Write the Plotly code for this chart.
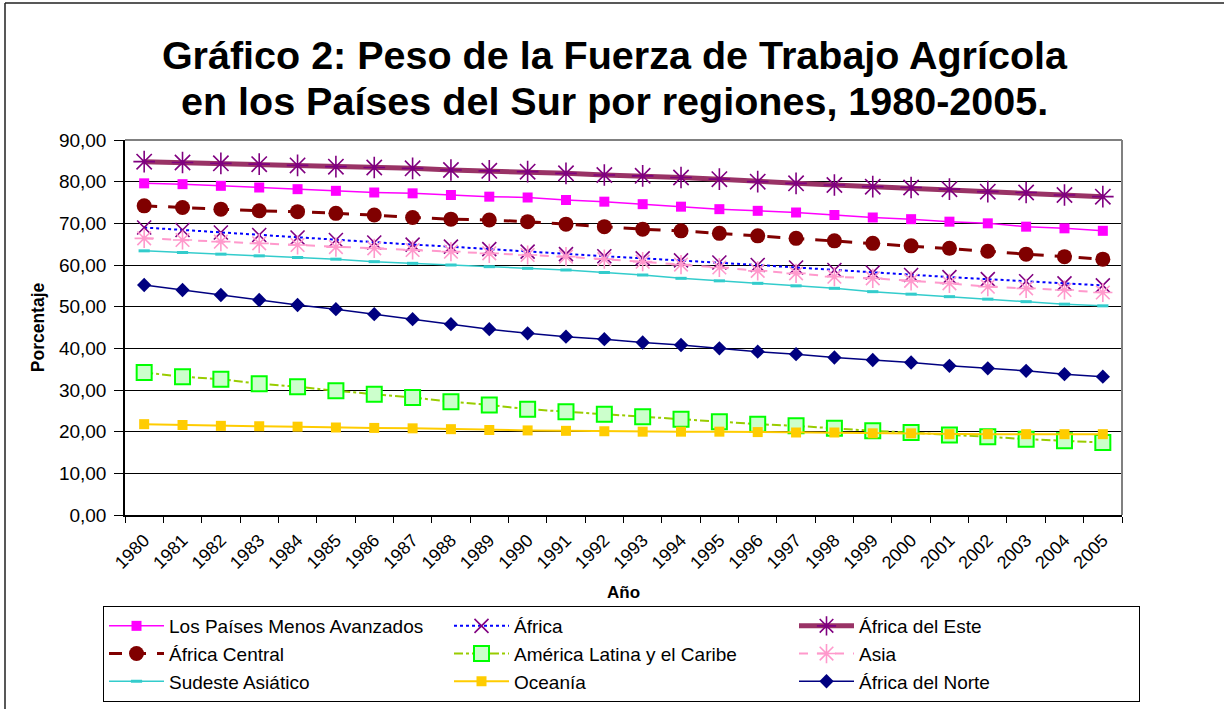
import plotly.graph_objects as go

years = ["1980", "1981", "1982", "1983", "1984", "1985", "1986", "1987", "1988",
         "1989", "1990", "1991", "1992", "1993", "1994", "1995", "1996", "1997",
         "1998", "1999", "2000", "2001", "2002", "2003", "2004", "2005"]

pma = [79.6, 79.4, 79.0, 78.6, 78.2, 77.8, 77.4, 77.2, 76.8, 76.4, 76.2, 75.6, 75.2,
       74.6, 74.0, 73.4, 73.0, 72.6, 72.0, 71.4, 71.0, 70.4, 70.0, 69.2, 68.8, 68.2]
africa = [69.0, 68.4, 67.8, 67.2, 66.6, 66.0, 65.4, 64.9, 64.4, 63.8, 63.2, 62.6, 62.1,
          61.6, 61.1, 60.6, 60.0, 59.4, 58.8, 58.2, 57.6, 57.1, 56.6, 56.1, 55.6, 55.1]
africa_este = [84.8, 84.6, 84.4, 84.2, 83.9, 83.6, 83.4, 83.2, 82.8, 82.6, 82.4, 82.0, 81.6,
               81.4, 81.0, 80.6, 80.0, 79.6, 79.2, 78.8, 78.6, 78.2, 77.6, 77.4, 76.8, 76.4]
africa_central = [74.2, 73.8, 73.4, 73.0, 72.8, 72.4, 72.0, 71.4, 71.0, 70.8, 70.4, 69.8, 69.2,
                  68.6, 68.2, 67.6, 67.0, 66.4, 65.8, 65.2, 64.6, 64.0, 63.3, 62.6, 62.0, 61.4]
america_latina = [34.2, 33.2, 32.6, 31.5, 30.8, 29.8, 29.0, 28.2, 27.2, 26.4, 25.4, 24.8, 24.2,
                  23.6, 23.0, 22.4, 21.8, 21.4, 20.8, 20.2, 19.8, 19.2, 18.8, 18.2, 17.8, 17.4]
asia = [66.4, 66.0, 65.6, 65.2, 64.8, 64.3, 64.0, 63.6, 63.2, 62.8, 62.4, 62.0, 61.4,
        60.8, 60.1, 59.4, 58.6, 58.0, 57.2, 56.8, 56.2, 55.6, 54.8, 54.4, 54.0, 53.4]
sudeste_asiatico = [63.4, 63.0, 62.6, 62.2, 61.8, 61.4, 60.8, 60.4, 60.0, 59.6, 59.2, 58.8, 58.2,
                    57.6, 56.8, 56.2, 55.6, 55.0, 54.4, 53.6, 53.0, 52.4, 51.8, 51.2, 50.6, 50.2]
oceania = [21.8, 21.6, 21.4, 21.3, 21.2, 21.0, 20.9, 20.8, 20.6, 20.4, 20.3, 20.2, 20.1,
           20.0, 20.0, 20.0, 19.9, 19.8, 19.8, 19.6, 19.6, 19.4, 19.4, 19.4, 19.4, 19.4]
africa_norte = [55.2, 54.0, 52.8, 51.6, 50.4, 49.4, 48.2, 47.0, 45.8, 44.6, 43.6, 42.8, 42.2,
                41.4, 40.8, 40.0, 39.2, 38.6, 37.8, 37.2, 36.6, 35.8, 35.2, 34.6, 33.8, 33.2]

title_line1 = "Gráfico 2: Peso de la Fuerza de Trabajo Agrícola"
title_line2 = "en los Países del Sur por regiones, 1980-2005."

W, H = 1224, 709
ML, MR, MT, MB = 125, 102, 140, 194
PW, PH = W - ML - MR, H - MT - MB


def px2x(px):
    return (px - ML) / PW


def py2y(py):
    return (H - MB - py) / PH


FONT = "Liberation Sans, Arial, sans-serif"

fig = go.Figure()

series = [
    ("Los Países Menos Avanzados", pma,
     dict(color="#FF00FF", width=1.5),
     dict(symbol="square", size=10, color="#FF00FF")),
    ("África", africa,
     dict(color="#0000FF", width=2, dash="dot"),
     dict(symbol="x-thin-open", size=14, color="#800080", line=dict(color="#800080", width=1.6))),
    ("África del Este", africa_este,
     dict(color="#993366", width=5),
     dict(symbol="asterisk-open", size=18, color="#800080", line=dict(color="#800080", width=1.6))),
    ("África Central", africa_central,
     dict(color="#800000", width=3, dash="13px,11px"),
     dict(symbol="circle", size=15, color="#800000")),
    ("América Latina y el Caribe", america_latina,
     dict(color="#99CC00", width=2, dash="dashdot"),
     dict(symbol="square", size=15, color="#CCFFCC", line=dict(color="#00FF00", width=2))),
    ("Asia", asia,
     dict(color="#FF99CC", width=2, dash="dash"),
     dict(symbol="asterisk-open", size=16, color="#FF99CC", line=dict(color="#FF99CC", width=1.6))),
    ("Sudeste Asiático", sudeste_asiatico,
     dict(color="#33CCCC", width=1.5),
     dict(symbol="line-ew-open", size=8, color="#33CCCC", line=dict(color="#33CCCC", width=3))),
    ("Oceanía", oceania,
     dict(color="#FFCC00", width=2),
     dict(symbol="square", size=10, color="#FFCC00")),
    ("África del Norte", africa_norte,
     dict(color="#000080", width=1.5),
     dict(symbol="diamond", size=11, color="#000080")),
]

for name, vals, line, marker in series:
    fig.add_trace(go.Scatter(x=years, y=vals, name=name, mode="lines+markers",
                             line=line, marker=marker))

shapes = [
    # plot area border (top and right)
    dict(type="line", xref="paper", yref="paper", x0=0, x1=1, y0=1, y1=1,
         line=dict(color="#808080", width=2), layer="above"),
    dict(type="line", xref="paper", yref="paper", x0=1, x1=1, y0=0, y1=1,
         line=dict(color="#808080", width=2), layer="above"),
    # outer chart frame
    dict(type="line", xref="paper", yref="paper", x0=px2x(5), x1=px2x(1240),
         y0=py2y(3), y1=py2y(3), line=dict(color="#202020", width=1.5)),
    dict(type="line", xref="paper", yref="paper", x0=px2x(5), x1=px2x(5),
         y0=py2y(3), y1=py2y(720), line=dict(color="#202020", width=1.5)),
]

fig.update_layout(
    width=W, height=H,
    margin=dict(l=ML, r=MR, t=MT, b=MB, autoexpand=False),
    paper_bgcolor="white", plot_bgcolor="white",
    separators=", ",
    font=dict(family=FONT, color="black", size=17),
    title=dict(
        text="<b>" + title_line1 + "</b>",
        font=dict(family=FONT, size=39.5, color="black"),
        x=0.502, xanchor="center", xref="container",
        y=1 - 55 / H, yanchor="middle", yref="container",
    ),
    annotations=[dict(
        text="<b>" + title_line2 + "</b>", showarrow=False,
        xref="paper", yref="paper", x=px2x(614), y=py2y(101),
        xanchor="center", yanchor="middle",
        font=dict(family=FONT, size=39.5, color="black"),
    )],
    xaxis=dict(
        type="category", categoryorder="array", categoryarray=years,
        range=[-0.5, len(years) - 0.5], autorange=False,
        tickson="boundaries", ticks="outside", ticklen=6, tickwidth=1, tickcolor="black",
        ticklabelstandoff=6,
        tickangle=-45, tickfont=dict(size=18, family=FONT),
        showline=True, linecolor="black", linewidth=1.5,
        showgrid=False, zeroline=False,
        title=dict(text="<b>Año</b>", font=dict(size=17, family=FONT), standoff=14),
    ),
    yaxis=dict(
        range=[0, 90], dtick=10, tickformat=".2f", autorange=False,
        ticks="outside", ticklen=9, tickwidth=1, tickcolor="black",
        ticklabelstandoff=4,
        tickfont=dict(size=19, family=FONT),
        showline=True, linecolor="black", linewidth=1.5,
        showgrid=True, gridcolor="black", gridwidth=1, zeroline=False,
        title=dict(text="<b>Porcentaje</b>", font=dict(size=17.5, family=FONT), standoff=10),
    ),
    legend=dict(
        orientation="h", x=px2x(103), xanchor="left", y=py2y(606), yanchor="top",
        entrywidth=275, entrywidthmode="pixels",
        bordercolor="black", borderwidth=1, bgcolor="white",
        font=dict(size=19, family=FONT), itemwidth=55,
        traceorder="normal",
    ),
    shapes=shapes,
    showlegend=True,
)

fig.write_html("out.html", config={"displayModeBar": False},
               post_script="document.body.style.margin='0';document.body.style.overflow='hidden';")
